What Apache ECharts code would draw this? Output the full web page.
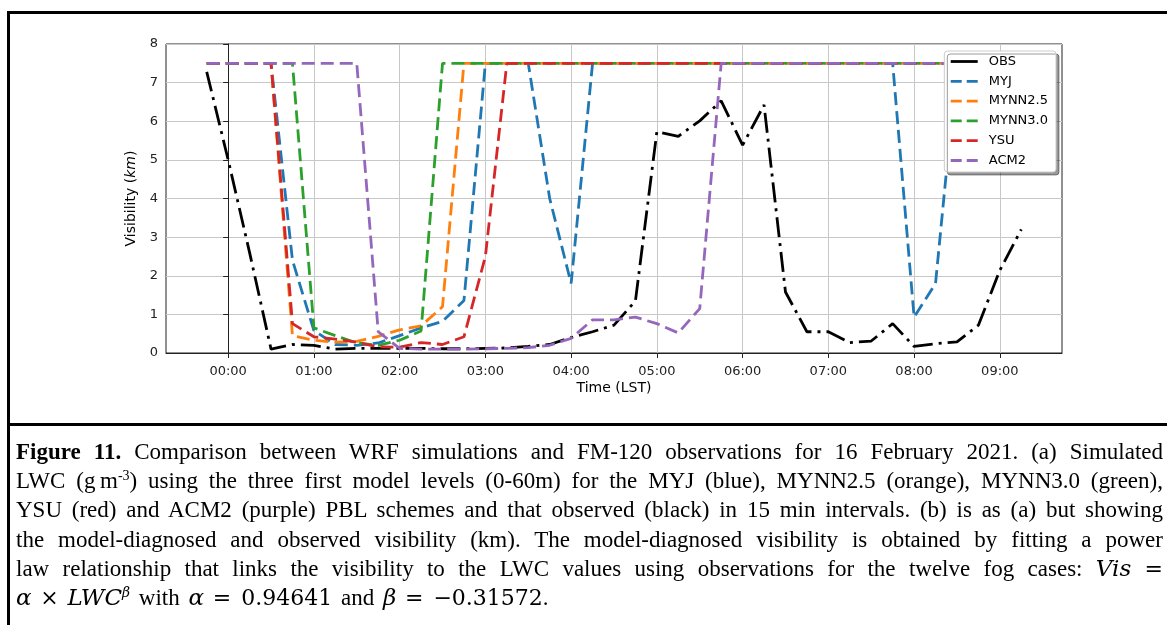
<!DOCTYPE html>
<html>
<head>
<meta charset="utf-8">
<script src="https://cdn.jsdelivr.net/npm/echarts@6/dist/echarts.min.js"></script>
<style>
  html, body { margin: 0; padding: 0; background: #fff; }
  #page { position: relative; width: 1167px; height: 625px; overflow: hidden; }
  #frame {
    position: absolute; left: 7px; top: 11px; width: 1300px; height: 700px;
    border-left: 3px solid #000; border-top: 3px solid #000; box-sizing: border-box;
  }
  #sep { position: absolute; left: 7px; top: 423px; width: 1300px; height: 3px; background: #000; }
  #chart { position: absolute; left: 0; top: 0; width: 1167px; height: 625px; }
  #caption {
    position: absolute; left: 16px; top: 437px; width: 1147px;
    font-family: "Liberation Serif", "Times New Roman", serif; font-size: 23px;
    line-height: 29.2px; color: #000;
  }
  #caption .ln { white-space: nowrap; }
  #caption .last { word-spacing: 3px; }
  #caption sup { font-size: 14px; line-height: 0; vertical-align: 8px; }
  #caption .m { font-family: "DejaVu Serif", serif; font-style: italic; font-size: 23px; }
  #caption .mu { font-family: "DejaVu Serif", serif; font-size: 22px; }
</style>
</head>
<body>
<div id="page">
  <div id="chart"></div>
  <div id="frame"></div>
  <div id="sep"></div>
  <div id="caption">
    <div class="ln"><span><b>Figure 11.</b> Comparison between WRF simulations and FM-120 observations for 16 February 2021. (a) Simulated</span></div>
    <div class="ln"><span>LWC (g&#8239;m<sup>-3</sup>) using the three first model levels (0-60m) for the MYJ (blue), MYNN2.5 (orange), MYNN3.0 (green),</span></div>
    <div class="ln"><span>YSU (red) and ACM2 (purple) PBL schemes and that observed (black) in 15 min intervals. (b) is as (a) but showing</span></div>
    <div class="ln"><span>the model-diagnosed and observed visibility (km). The model-diagnosed visibility is obtained by fitting a power</span></div>
    <div class="ln"><span>law relationship that links the visibility to the LWC values using observations for the twelve fog cases: <span class="m">Vis</span> <span class="mu">=</span></span></div>
    <div class="ln last"><span><span class="m">α</span> <span class="mu">×</span> <span class="m">LWC<sup>β</sup></span> with <span class="m">α</span> <span class="mu">= 0.94641</span> and <span class="m">β</span> <span class="mu">= −0.31572</span>.</span></div>
  </div>
</div>
<script>
// time of each sample, hours after midnight (LST), 15 min steps
var hours = [-0.25, 0, 0.25, 0.5, 0.75, 1, 1.25, 1.5, 1.75, 2, 2.25, 2.5, 2.75, 3, 3.25, 3.5, 3.75,
  4, 4.25, 4.5, 4.75, 5, 5.25, 5.5, 5.75, 6, 6.25, 6.5, 6.75, 7, 7.25, 7.5, 7.75, 8, 8.25, 8.5, 8.75, 9, 9.25];
var tickHours = [0, 1, 2, 3, 4, 5, 6, 7, 8, 9];
var tickLabels = ['00:00', '01:00', '02:00', '03:00', '04:00', '05:00', '06:00', '07:00', '08:00', '09:00'];

// visibility (km)
var obs = [7.28, 5.0, 2.6, 0.1, 0.22, 0.2, 0.1, 0.12, 0.12, 0.12, 0.12, 0.11, 0.11, 0.12, 0.13, 0.17, 0.22,
  0.4, 0.55, 0.72, 1.35, 5.73, 5.61, 6.01, 6.53, 5.38, 6.42, 1.58, 0.55, 0.55, 0.27, 0.31, 0.76, 0.17, 0.24, 0.29, 0.72, 2.14, 3.2];
var myj = [7.5, 7.5, 7.5, 7.5, 2.4, 0.58, 0.22, 0.2, 0.26, 0.45, 0.65, 0.82, 1.36, 7.5, 7.5, 7.5, 4.0,
  1.8, 7.5, 7.5, 7.5, 7.5, 7.5, 7.5, 7.5, 7.5, 7.5, 7.5, 7.5, 7.5, 7.5, 7.5, 7.5, 0.93, 1.8, 7.5, 7.5, 7.5, 7.5];
var mynn25 = [7.5, 7.5, 7.5, 7.5, 0.45, 0.33, 0.28, 0.3, 0.43, 0.6, 0.7, 1.2, 7.5, 7.5, 7.5, 7.5, 7.5,
  7.5, 7.5, 7.5, 7.5, 7.5, 7.5, 7.5, 7.5, 7.5, 7.5, 7.5, 7.5, 7.5, 7.5, 7.5, 7.5, 7.5, 7.5, 7.5, 7.5, 7.5, 7.5];
var mynn30 = [7.5, 7.5, 7.5, 7.5, 7.5, 0.65, 0.45, 0.26, 0.2, 0.33, 0.57, 7.5, 7.5, 7.5, 7.5, 7.5, 7.5,
  7.5, 7.5, 7.5, 7.5, 7.5, 7.5, 7.5, 7.5, 7.5, 7.5, 7.5, 7.5, 7.5, 7.5, 7.5, 7.5, 7.5, 7.5, 7.5, 7.5, 7.5, 7.5];
var ysu = [7.5, 7.5, 7.5, 7.5, 0.76, 0.42, 0.36, 0.28, 0.16, 0.15, 0.27, 0.22, 0.42, 2.5, 7.5, 7.5, 7.5,
  7.5, 7.5, 7.5, 7.5, 7.5, 7.5, 7.5, 7.5, 7.5, 7.5, 7.5, 7.5, 7.5, 7.5, 7.5, 7.5, 7.5, 7.5, 7.5, 7.5, 7.5, 7.5];
var acm2 = [7.5, 7.5, 7.5, 7.5, 7.5, 7.5, 7.5, 7.5, 0.55, 0.12, 0.1, 0.1, 0.1, 0.11, 0.12, 0.14, 0.2,
  0.38, 0.86, 0.86, 0.93, 0.76, 0.52, 1.15, 7.5, 7.5, 7.5, 7.5, 7.5, 7.5, 7.5, 7.5, 7.5, 7.5, 7.5, 7.5, 7.5, 7.5, 7.5];

var names = ['OBS', 'MYJ', 'MYNN2.5', 'MYNN3.0', 'YSU', 'ACM2'];
var colors = ['#000000', '#1f77b4', '#ff7f0e', '#2ca02c', '#d62728', '#9467bd'];
var values = [obs, myj, mynn25, mynn30, ysu, acm2];

var font = 'DejaVu Sans';

function pairs(vals) {
  return hours.map(function(h, i) { return [h, vals[i]]; });
}

var series = [];
names.forEach(function(n, i) {
  series.push({
    name: n,
    type: 'line',
    data: pairs(values[i]),
    symbol: 'none',
    silent: true,
    lineStyle: {
      color: colors[i],
      width: 2.8,
      type: i == 0 ? [20, 6, 3, 6] : [13, 6],
      cap: 'butt'
    },
    itemStyle: { color: colors[i] }
  });
});

// legend samples: plain line for OBS, two dashes for the models, no marker
var legendData = names.map(function(n, i) {
  return {
    name: n,
    itemStyle: { opacity: 0 },
    lineStyle: { type: i == 0 ? 'solid' : [11, 5], width: 2.8, color: colors[i] }
  };
});

var chart = echarts.init(document.getElementById('chart'), null, { renderer: 'canvas' });
chart.setOption({
  animation: false,
  backgroundColor: 'transparent',
  grid: {
    left: 166, top: 44, width: 896, height: 309,
    show: true, borderColor: '#222', borderWidth: 1, backgroundColor: 'transparent'
  },
  legend: {
    orient: 'vertical',
    right: 111, top: 51,
    padding: [4, 8, 5, 5],
    itemWidth: 27, itemHeight: 12, itemGap: 6.8,
    backgroundColor: '#fff',
    borderColor: '#cccccc', borderWidth: 1, borderRadius: 3,
    shadowColor: 'rgba(0,0,0,0.4)', shadowBlur: 0, shadowOffsetX: 3, shadowOffsetY: 3,
    itemStyle: { opacity: 0 },
    textStyle: { fontFamily: font, fontSize: 13, color: '#000', padding: [0, 0, 0, 6] },
    data: legendData
  },
  xAxis: {
    type: 'value',
    min: -0.725, max: 9.725,
    minInterval: 1, maxInterval: 1,
    name: 'Time (LST)',
    nameLocation: 'middle',
    nameGap: 28,
    nameTextStyle: { fontFamily: font, fontSize: 14, color: '#000' },
    axisLine: { show: true, onZero: false, lineStyle: { color: '#222', width: 1 } },
    axisTick: { show: true, length: 5, lineStyle: { color: '#222' }, customValues: tickHours },
    axisLabel: {
      fontFamily: font, fontSize: 13, color: '#222', margin: 12,
      customValues: tickHours,
      formatter: function(v) { return tickLabels[tickHours.indexOf(v)]; }
    },
    splitLine: { show: true, lineStyle: { color: '#c8c8c8', width: 1 } }
  },
  yAxis: {
    type: 'value',
    min: 0, max: 8, interval: 1,
    name: '{n|Visibility (}{i|km}{n|)}',
    nameLocation: 'middle',
    nameGap: 23,
    nameTextStyle: {
      rich: {
        n: { fontFamily: font, fontSize: 14, color: '#000' },
        i: { fontFamily: font, fontSize: 14, fontStyle: 'italic', color: '#000' }
      }
    },
    axisLine: { show: true, lineStyle: { color: '#222', width: 1 } },
    axisTick: { show: true, length: 5, lineStyle: { color: '#222' } },
    axisLabel: { fontFamily: font, fontSize: 13, color: '#222', margin: 8 },
    splitLine: { show: true, lineStyle: { color: '#c8c8c8', width: 1 } }
  },
  series: series
});

// justify caption lines to the full width, like the source document
var capWidth = 1147;
document.querySelectorAll('#caption .ln').forEach(function(ln) {
  if (ln.classList.contains('last')) return;
  var span = ln.firstElementChild;
  var w = span.getBoundingClientRect().width;
  var spaces = span.textContent.split(' ').length - 1;
  if (spaces > 0) span.style.wordSpacing = ((capWidth - w) / spaces) + 'px';
});
</script>
</body>
</html>
